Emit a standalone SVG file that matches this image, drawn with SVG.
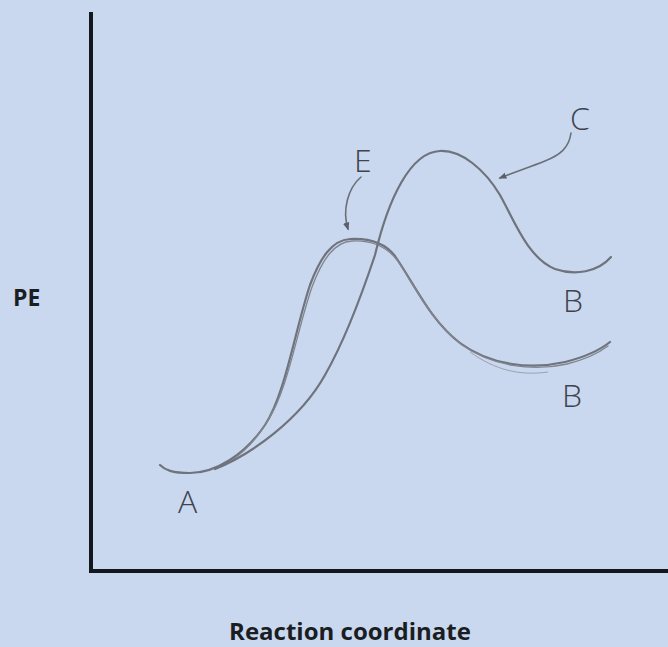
<svg xmlns="http://www.w3.org/2000/svg" width="668" height="647" viewBox="0 0 668 647">
  <defs>
    <style>
      .axis { stroke: #14171c; stroke-width: 4; fill: none; stroke-linecap: butt; }
      .curve { stroke: #6e737d; stroke-width: 2.2; fill: none; stroke-linecap: round; stroke-linejoin: round; }
      .curve2 { stroke: #80858f; stroke-width: 1.3; fill: none; stroke-linecap: round; }
      .faint { stroke: #9aa2ae; stroke-width: 1; fill: none; }
      .arrow { stroke: #6a6f79; stroke-width: 1.6; fill: none; stroke-linecap: round; }
      .axislabel { font-family: "Open Sans", "Liberation Sans", sans-serif; font-weight: 700; fill: #1a1d22; }
      .hand { font-family: "Open Sans", "DejaVu Sans", sans-serif; font-weight: 300; fill: #3e434e; font-size: 32px; }
    </style>
    <marker id="ah" viewBox="0 0 10 10" refX="8" refY="5" markerWidth="8" markerHeight="8" orient="auto" markerUnits="userSpaceOnUse">
      <path d="M0,1 L10,5 L0,9 Z" fill="#5a5f69"/>
    </marker>
  </defs>

  <rect x="0" y="0" width="668" height="647" fill="#c9d8ee"/>

  <g id="axes">
    <line class="axis" x1="91" y1="12" x2="91" y2="573"/>
    <line class="axis" x1="89" y1="571" x2="668" y2="571"/>
  </g>

  <g id="axis-labels">
    <text class="axislabel" x="13" y="306" font-size="23">PE</text>
    <text class="axislabel" x="350" y="640" font-size="24" text-anchor="middle">Reaction coordinate</text>
  </g>

  <g id="curve-E">
    <path class="curve" d="M160,465 C165,470 172,473 190,473 C215,473 245,455 265,425 C285,395 295,330 310,285 C320,258 332,240 350,239 C370,238 385,243 395,256 C415,285 430,320 460,343 C490,365 530,370 565,362 C585,357 600,350 610,342"/>
    <path class="curve2" d="M232,460 C250,448 262,430 268,420 C288,390 297,330 312,287 C322,260 334,242 352,241 C372,240 386,246 397,260 C416,288 432,322 462,345 C492,366 532,372 567,364 C587,359 600,352 608,346"/>
    <path class="faint" d="M470,352 C495,370 520,376 548,372"/>
  </g>

  <g id="curve-C">
    <path class="curve" d="M215,469 C250,455 300,420 325,375 C345,340 360,300 375,255 C388,200 410,152 440,151 C462,150 485,170 500,195 C515,222 528,258 555,269 C575,276 598,272 611,257"/>
  </g>

  <g id="label-A">
    <text class="hand" x="178" y="513">A</text>
  </g>
  <g id="label-E">
    <text class="hand" x="354" y="172">E</text>
  </g>
  <g id="label-C">
    <text class="hand" x="570" y="130">C</text>
  </g>
  <g id="label-B-top">
    <text class="hand" x="563" y="312">B</text>
  </g>
  <g id="label-B-bottom">
    <text class="hand" x="562" y="407">B</text>
  </g>

  <g id="connectors">
    <path class="arrow" marker-end="url(#ah)" d="M571,133 C569,148 560,155 545,161 C530,167 515,172 500,178"/>
    <path class="arrow" marker-end="url(#ah)" d="M361,177 C348,188 342,210 348,229"/>
  </g>
</svg>
